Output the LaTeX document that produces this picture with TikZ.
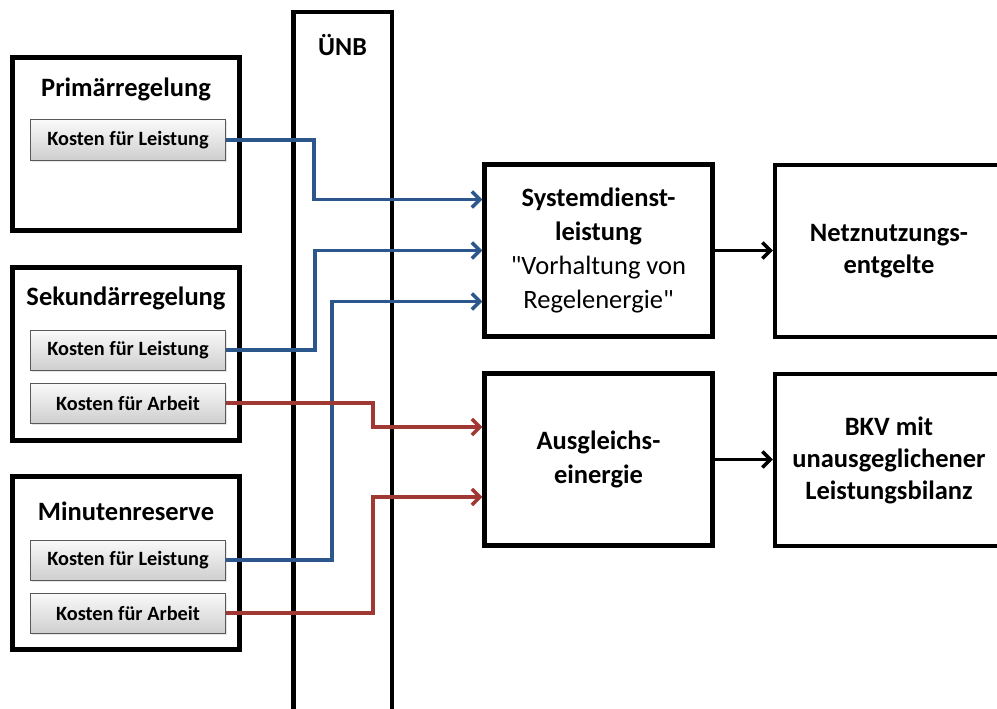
\documentclass[tikz,border=0pt]{standalone}
\usepackage{fontspec}
\setmainfont{Carlito}
\usetikzlibrary{arrows.meta}
\usetikzlibrary{calc}
\usetikzlibrary{positioning}
\usetikzlibrary{shadows}
\tikzset{>={Straight Barb[length=8pt,width=16pt]}}
\definecolor{costblue}{RGB}{44,87,140}
\definecolor{costred}{RGB}{160,56,52}

\begin{document}
\begin{tikzpicture}[x=1pt,y=-1pt,
  block/.style={draw,fill=white,line width=4.5pt,drop shadow={shadow xshift=2pt,shadow yshift=-2pt,opacity=0.25}},
  group/.style={block,minimum width=227pt,minimum height=173pt},
  result/.style={block,align=center,minimum width=228pt,minimum height=172pt,font=\fontsize{26.5}{34}\selectfont},
  title/.style={font=\fontsize{26.5}{30}\selectfont\bfseries},
  cost/.style={draw=black!65,line width=1pt,top color=gray!4,bottom color=gray!38,minimum width=195pt,minimum height=40pt,inner sep=0pt,font=\fontsize{20.3}{24}\selectfont\bfseries,drop shadow={shadow xshift=1.5pt,shadow yshift=-1.5pt,opacity=0.2}},
  blueline/.style={draw=costblue,line width=3.5pt},
  redline/.style={draw=costred,line width=3.5pt},
  flow/.style={draw,line width=3.5pt}]

\clip (0,0) rectangle (997,709);

\node (uenb) [block,anchor=north,minimum width=98.5pt,minimum height=740pt] at (342.5,10) {};
\node (uenblabel) [title,font=\fontsize{26}{30}\selectfont\bfseries] at ($(uenb.north)+(0,35)$) {ÜNB};

\node (prim) [group] at (126,144) {};
\node (primtitle) [title] at ($(prim.north)+(0,34)$) {Primärregelung};
\node (primL) [cost] at (128,140) {Kosten für Leistung};

\node (sek) [group] at (126,354) {};
\node (sektitle) [title] at ($(sek.north)+(0,33)$) {Sekundärregelung};
\node (sekL) [cost] at (128,350) {Kosten für Leistung};
\node (sekA) [cost,below=12pt of sekL] {Kosten für Arbeit};

\node (minr) [group] at (126,563) {};
\node (minrtitle) [title] at ($(minr.north)+(0,37)$) {Minutenreserve};
\node (minL) [cost] at (128,560) {Kosten für Leistung};
\node (minA) [cost,below=12pt of minL] {Kosten für Arbeit};

\node (sys) [result] at (598.5,250.5) {\textbf{Systemdienst-}\\\textbf{leistung}\\\textquotedbl Vorhaltung von\\Regelenergie\textquotedbl};
\node (ausg) [result,font=\fontsize{26.5}{34}\selectfont\bfseries] at (598.5,459.5) {Ausgleichs-\\einergie};
\node (netz) [result,font=\fontsize{26.5}{32}\selectfont\bfseries] at (889,251) {Netznutzungs-\\entgelte};
\node (bkv) [result,font=\fontsize{26.5}{32}\selectfont\bfseries] at (889,460) {BKV mit\\unausgeglichener\\Leistungsbilanz};

\coordinate (sysin1) at ($(sys.west)+(0,-51)$);
\coordinate (sysin2) at (sys.west);
\coordinate (sysin3) at ($(sys.west)+(0,51)$);
\coordinate (ausgin1) at ($(ausg.west)+(0,-32.5)$);
\coordinate (ausgin2) at ($(ausg.west)+(0,37.5)$);

\draw [blueline,->] (primL.east) -- ++(88,0) |- (sysin1);
\draw [blueline,->] (sekL.east) -- ++(89,0) |- (sysin2);
\draw [blueline,->] (minL.east) -- ++(106,0) |- (sysin3);
\draw [redline,->] (sekA.east) -- ++(147,0) |- (ausgin1);
\draw [redline,->] (minA.east) -- ++(147,0) |- (ausgin2);

\draw [flow,->] (sys.east) -- (sys.east -| netz.west);
\draw [flow,->] (ausg.east) -- (ausg.east -| bkv.west);

\end{tikzpicture}
\end{document}
